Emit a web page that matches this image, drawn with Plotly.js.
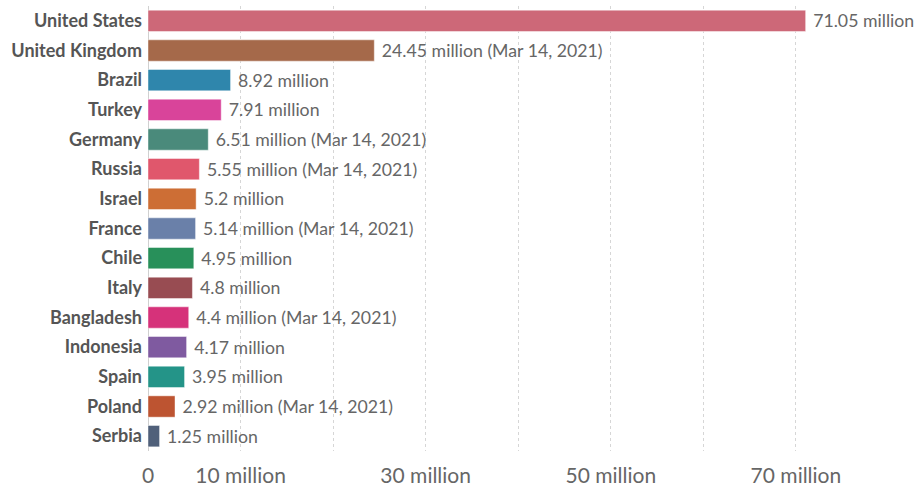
<!DOCTYPE html>
<html>
<head>
<meta charset="utf-8">
<script src="https://cdn.plot.ly/plotly-3.0.1.min.js"></script>
<style>html,body{margin:0;padding:0;background:#fff;}#chart{width:916px;height:488px;}</style>
</head>
<body>
<div id="chart"></div>
<script>
const countries = ["United States","United Kingdom","Brazil","Turkey","Germany","Russia","Israel","France","Chile","Italy","Bangladesh","Indonesia","Spain","Poland","Serbia"];
const valuesMillion = [71.05,24.45,8.92,7.91,6.51,5.55,5.2,5.14,4.95,4.8,4.4,4.17,3.95,2.92,1.25];
const dateNotes = ["","Mar 14, 2021","","","Mar 14, 2021","Mar 14, 2021","","Mar 14, 2021","","","Mar 14, 2021","","","Mar 14, 2021",""];
const barColors = ["#cd6878","#a5694a","#2f86ac","#d9449a","#4a8a7b","#e0576c","#cd6e35","#6a80a9","#28905a","#984c52","#d6327a","#7f5aa0","#249488","#bd5431","#50607a"];
const tickValues = [0,10,20,30,40,50,60,70];
const tickLabels = ["0","10 million","","30 million","","50 million","","70 million"];

const labels = valuesMillion.map((v,i) => "\u00a0" + v + " million" + (dateNotes[i] ? " (" + dateNotes[i] + ")" : ""));

const trace = {
  type: "bar",
  orientation: "h",
  y: countries,
  x: valuesMillion,
  text: labels,
  textposition: "outside",
  cliponaxis: false,
  constraintext: "none",
  textfont: {family: "Lato, sans-serif", size: 17.7, color: "#666"},
  marker: {color: barColors, line: {color: "rgba(255,255,255,0.45)", width: 1}},
  hoverinfo: "none"
};

const layout = {
  width: 916, height: 488,
  margin: {l: 148, r: 9, t: 6, b: 37},
  paper_bgcolor: "#fff", plot_bgcolor: "#fff",
  showlegend: false,
  bargap: 0.28,
  xaxis: {
    range: [0, 82],
    tickmode: "array",
    tickvals: tickValues,
    ticktext: tickLabels,
    showgrid: true,
    gridcolor: "#d6d6d6",
    griddash: "3px,3px",
    gridwidth: 1,
    zeroline: true,
    zerolinecolor: "#d0d0d0",
    zerolinewidth: 1,
    showline: false,
    ticks: "outside",
    ticklen: 6,
    tickcolor: "rgba(0,0,0,0)",
    tickfont: {family: "Lato, sans-serif", size: 21, color: "#666"},
    fixedrange: true
  },
  yaxis: {
    autorange: "reversed",
    showgrid: false,
    zeroline: false,
    showline: false,
    ticks: "",
    ticklabelstandoff: 5,
    tickfont: {family: "Lato, sans-serif", size: 18, color: "#555", weight: "bold"},
    fixedrange: true
  }
};

Plotly.newPlot("chart", [trace], layout, {displayModeBar: false, staticPlot: true});
</script>
</body>
</html>
